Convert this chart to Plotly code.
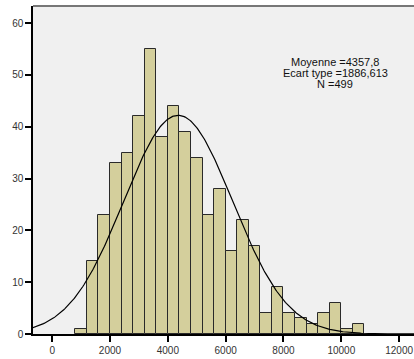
import numpy as np
import plotly.graph_objects as go

bin_starts = [800, 1200, 1600, 2000, 2400, 2800, 3200, 3600, 4000, 4400, 4800, 5200,
              5600, 6000, 6400, 6800, 7200, 7600, 8000, 8400, 8800, 9200, 9600, 10000, 10400]
counts = [1, 14, 23, 33, 35, 42, 55, 38, 44, 39, 34, 23,
          28, 16, 22, 17, 4, 9, 4, 3, 2, 4, 6, 1, 2]
bin_width = 400
mean = 4357.8
std = 1886.613
n = 499
x_ticks = [0, 2000, 4000, 6000, 8000, 10000, 12000]
y_ticks = [0, 10, 20, 30, 40, 50, 60]
stat_lines = ["Moyenne =4357,8", "Ecart type =1886,613", "N =499"]

centers = [s + bin_width / 2 for s in bin_starts]
xs = np.linspace(-700, 12600, 400)
ys = n * bin_width / (std * np.sqrt(2 * np.pi)) * np.exp(-0.5 * ((xs - mean) / std) ** 2)

fig = go.Figure()
fig.add_trace(go.Bar(x=centers, y=counts, width=bin_width,
                     marker=dict(color="#d4cf9c", line=dict(color="#2a2a2a", width=1))))
fig.add_trace(go.Scatter(x=xs, y=ys, mode="lines", line=dict(color="black", width=1.2)))

for i, t in enumerate(stat_lines):
    fig.add_annotation(x=9786, y=52.4 - 2.05 * i, xref="x", yref="y", text=t,
                       showarrow=False, align="center", yanchor="middle",
                       font=dict(family="Liberation Sans, Arial", size=11, color="#111"))

fig.add_shape(type="line", xref="paper", yref="paper", x0=0, x1=1, y0=1, y1=1,
              line=dict(color="#777", width=2))

fig.update_layout(
    width=414, height=359,
    margin=dict(l=33, r=0, t=6, b=25),
    paper_bgcolor="white", plot_bgcolor="#f0f0f0",
    showlegend=False, bargap=0,
    font=dict(family="Liberation Sans, Arial", size=10, color="#333"),
)
fig.update_xaxes(range=[-663, 12515], tickvals=x_ticks, ticktext=[str(v) for v in x_ticks],
                 showgrid=False, zeroline=False, showline=True, linecolor="black", linewidth=1.5,
                 ticks="outside", ticklen=6, tickcolor="black", tickwidth=1.5)
fig.update_yaxes(range=[0, 63.3], tickvals=y_ticks, ticktext=[str(v) for v in y_ticks],
                 showgrid=False, zeroline=False, showline=True, linecolor="black", linewidth=1.5,
                 ticks="outside", ticklen=6, tickcolor="black", tickwidth=1.5)

fig.write_html("out.html")
